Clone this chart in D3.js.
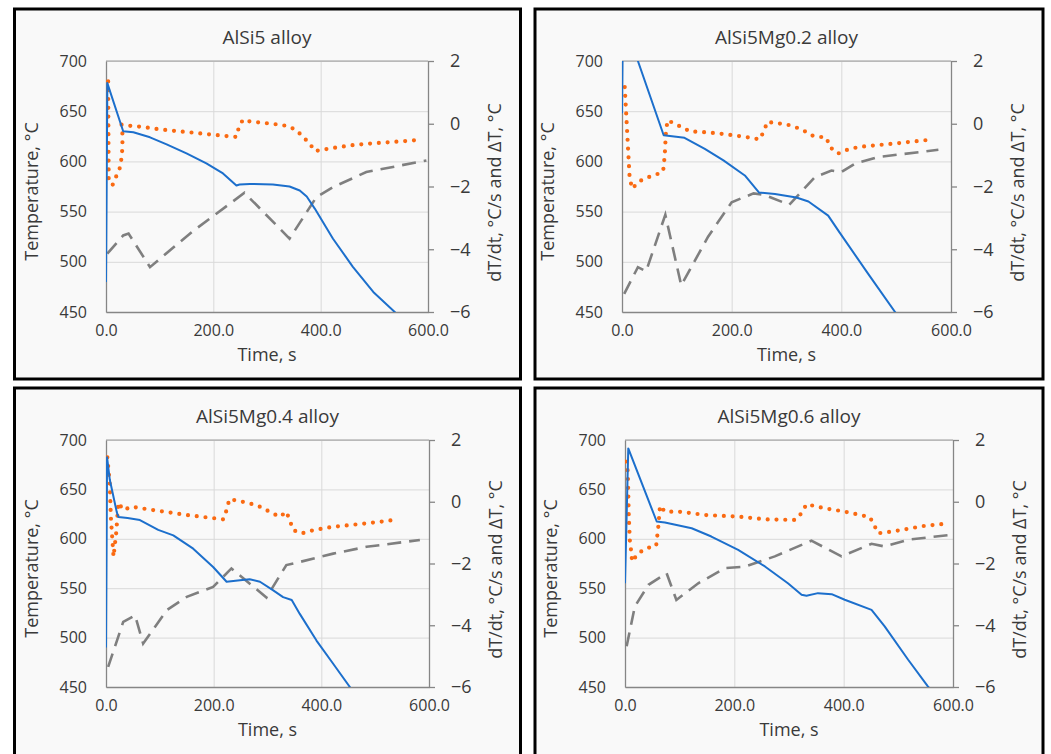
<!DOCTYPE html>
<html>
<head>
<meta charset="utf-8">
<script src="https://cdn.jsdelivr.net/npm/d3@7"></script>
<style>
  body { margin: 0; background: #ffffff; }
  svg { display: block; font-family: "Open Sans", sans-serif; }
</style>
</head>
<body>
<svg id="chart"></svg>
<script>
// ---- data ----
const titles = ["AlSi5 alloy", "AlSi5Mg0.2 alloy", "AlSi5Mg0.4 alloy", "AlSi5Mg0.6 alloy"];
const timeTicks = [0, 200, 400, 600];
const tempTicks = [450, 500, 550, 600, 650, 700];
const rateTicks = [2, 0, -2, -4, -6];

// [time s, temperature C]
const tempAlSi5 = [[0,480],[2.5,678],[32,630],[51,629],[82,624],[113,617],[150,608],[187,598],[218,588],[243,576],[249,577],[268,577.5],[311,577],[342,575],[361,571],[374,565],[389,553],[423,523],[460,495],[498,470],[538,450],[560,438]];
const tempMg02 = [[0,648],[2,760],[29,700],[76,626],[114,623.5],[151,612.5],[185,601],[224,586],[250,569],[279,567.5],[318,564],[340,560],[376,546],[397,529],[449,488],[498,450],[520,432]];
const tempMg04 = [[0,490],[2,682.5],[7,660],[20,627],[23,622],[40,621],[63,619],[97,609],[125,603.5],[162,590],[199,571.5],[224,556.5],[249,558],[267,559],[286,556.5],[310,548],[329,541],[345,538],[360,524],[391,497],[422,473.5],[453,450],[465,441]];
const tempMg06 = [[0,555],[6,691.5],[58,617.5],[73,616.5],[122,610.7],[158,602.3],[207,588.8],[256,572],[298,555],[323,543.3],[332,542.3],[353,545],[378,544],[402,538.3],[451,528],[475,511.3],[518,477.6],[554,450.7],[567,442]];

// [time s, dT/dt C/s]
const rateAlSi5 = [[4,1.35],[5,-1.75],[12,-1.96],[20,-1.64],[27,-1.36],[30,-0.9],[31,-0.4],[29,-0.03],[35,-0.05],[68,-0.1],[100,-0.18],[166,-0.29],[228,-0.4],[243,-0.42],[247,-0.15],[255,0.13],[271,0.06],[290,0.04],[306,0],[324,-0.03],[340,-0.08],[355,-0.21],[380,-0.64],[389,-0.87],[420,-0.78],[460,-0.68],[500,-0.62],[560,-0.55],[590,-0.5]];
const rateMg02 = [[5,1.17],[14,-1.75],[19,-2.07],[29,-1.86],[45,-1.72],[60,-1.64],[75,-1.52],[78,-1.0],[80,-0.3],[83,0.11],[99,-0.02],[114,-0.16],[127,-0.26],[135,-0.25],[172,-0.3],[203,-0.37],[233,-0.44],[251,-0.5],[259,-0.23],[265,0.06],[282,0.02],[300,-0.02],[315,-0.1],[330,-0.2],[345,-0.37],[373,-0.45],[379,-0.74],[394,-0.95],[407,-0.85],[431,-0.74],[461,-0.69],[492,-0.64],[562,-0.51]];
const rateMg04 = [[2.5,1.44],[7,0.6],[9,-0.5],[14,-1.78],[19,-1],[23,-0.03],[32,-0.27],[48,-0.16],[69,-0.22],[150,-0.43],[218,-0.57],[225,-0.22],[229,0.08],[246,0.03],[280,-0.11],[310,-0.38],[323,-0.49],[335,-0.32],[341,-0.59],[348,-0.92],[363,-1.03],[385,-0.92],[422,-0.81],[484,-0.7],[536,-0.59]];
const rateMg06 = [[1.2,1.3],[5,1.0],[7,-0.5],[9,-1.3],[11,-1.56],[13,-1.94],[24,-1.67],[40,-1.5],[57,-1.43],[61,-0.8],[64,-0.13],[73,-0.32],[97,-0.32],[122,-0.37],[146,-0.43],[207,-0.48],[256,-0.57],[311,-0.59],[323,-0.37],[332,-0.08],[365,-0.21],[402,-0.32],[448,-0.5],[457,-0.8],[463,-1.02],[487,-0.97],[548,-0.78],[594,-0.7]];

// [time s, delta T C]
const deltaAlSi5 = [[2.5,-4.14],[32,-3.56],[42,-3.5],[82,-4.57],[160,-3.45],[258,-2.2],[342,-3.66],[392,-2.34],[423,-2.02],[485,-1.54],[597,-1.17]];
const deltaMg02 = [[4,-5.42],[29,-4.57],[44,-4.7],[79,-2.9],[108,-5.15],[157,-3.6],[200,-2.5],[240,-2.22],[260,-2.27],[305,-2.58],[352,-1.7],[382,-1.49],[400,-1.54],[425,-1.27],[467,-1.06],[577,-0.83]];
const deltaMg04 = [[4,-5.35],[32,-3.89],[54,-3.68],[69,-4.59],[113,-3.51],[150,-3.08],[199,-2.76],[233,-2.16],[298,-3.1],[335,-2.05],[360,-1.95],[422,-1.68],[484,-1.46],[583,-1.24]];
const deltaMg06 = [[3,-4.68],[18,-3.39],[43,-2.69],[76,-2.31],[94,-3.18],[134,-2.64],[183,-2.15],[219,-2.1],[274,-1.77],[341,-1.26],[396,-1.77],[451,-1.36],[475,-1.45],[518,-1.23],[597,-1.07]];

const temps = [tempAlSi5, tempMg02, tempMg04, tempMg06];
const rates = [rateAlSi5, rateMg02, rateMg04, rateMg06];
const deltas = [deltaAlSi5, deltaMg02, deltaMg04, deltaMg06];

// ---- layout ----
const frames = [[14.5, 9, 506, 370], [535, 9, 508, 370], [14.5, 388, 506, 400], [535, 388, 508, 400]];
const plots = [[106, 61, 322, 251], [622, 61, 329, 251], [106, 440, 323, 247], [625, 440, 328, 247]];

const textColor = "#3a3a3a";
const svg = d3.select("#chart").attr("width", 1051).attr("height", 754);

titles.forEach((title, i) => drawPanel(i));

function drawPanel(i) {
    const f = frames[i];
    const p = plots[i];
    const left = p[0], top = p[1], width = p[2], height = p[3];

    svg.append("rect")
        .attr("x", f[0]).attr("y", f[1])
        .attr("width", f[2]).attr("height", f[3])
        .attr("fill", "#f9f9f9")
        .attr("stroke", "#000")
        .attr("stroke-width", 3);

    const timeScale = d3.scaleLinear().domain([0, 600]).range([0, width]);
    const tempScale = d3.scaleLinear().domain([450, 700]).range([height, 0]);
    const rateScale = d3.scaleLinear().domain([-6, 2]).range([height, 0]);

    const g = svg.append("g").attr("transform", "translate(" + left + "," + top + ")");

    // grid
    g.append("g")
        .attr("class", "grid")
        .call(d3.axisLeft(tempScale).tickValues(tempTicks).tickSize(-width).tickFormat(""))
        .call(s => s.select(".domain").remove())
        .call(s => s.selectAll("line").attr("stroke", "#d9d9d9"));
    g.append("g")
        .attr("class", "grid")
        .attr("transform", "translate(0," + height + ")")
        .call(d3.axisBottom(timeScale).tickValues([200, 400]).tickSize(-height).tickFormat(""))
        .call(s => s.select(".domain").remove())
        .call(s => s.selectAll("line").attr("stroke", "#d9d9d9"));
    g.append("line")
        .attr("x1", 0).attr("x2", width).attr("y1", 0).attr("y2", 0)
        .attr("stroke", "#9a9a9a");

    // axes
    const leftAxis = g.append("g")
        .call(d3.axisLeft(tempScale).tickValues(tempTicks).tickSize(0).tickPadding(19));
    const bottomAxis = g.append("g")
        .attr("transform", "translate(0," + height + ")")
        .call(d3.axisBottom(timeScale).tickValues(timeTicks).tickSize(0).tickPadding(13).tickFormat(d3.format(".1f")));
    const rightAxis = g.append("g")
        .attr("transform", "translate(" + width + ",0)")
        .call(d3.axisRight(rateScale).tickValues(rateTicks).tickSize(6).tickSizeOuter(0).tickPadding(16));
    [leftAxis, bottomAxis, rightAxis].forEach(a => {
        a.select(".domain").attr("stroke", "#868686").attr("stroke-width", 1.3);
        a.selectAll("line").attr("stroke", "#868686").attr("stroke-width", 1.3);
        a.selectAll("text").attr("fill", textColor).style("font-size", "16px")
            .style("font-family", "'Open Sans', sans-serif");
    });
    rightAxis.selectAll("text").style("font-size", "18px");

    // series, clipped to the plot area
    const clipId = "clip" + i;
    svg.append("clipPath").attr("id", clipId)
        .append("rect").attr("x", 0).attr("y", 0).attr("width", width).attr("height", height);
    const plot = g.append("g").attr("clip-path", "url(#" + clipId + ")");

    const tempLine = d3.line().x(d => timeScale(d[0])).y(d => tempScale(d[1]));
    const rateLine = d3.line().x(d => timeScale(d[0])).y(d => rateScale(d[1]));

    plot.append("path")
        .datum(deltas[i])
        .attr("fill", "none")
        .attr("stroke", "#7f7f7f")
        .attr("stroke-width", 2.6)
        .attr("stroke-dasharray", "14,8")
        .attr("d", rateLine);
    plot.append("path")
        .datum(rates[i])
        .attr("fill", "none")
        .attr("stroke", "#fa6a12")
        .attr("stroke-width", 4.2)
        .attr("stroke-linecap", "round")
        .attr("stroke-linejoin", "round")
        .attr("stroke-dasharray", "0,8.8")
        .attr("d", rateLine);
    plot.append("path")
        .datum(temps[i])
        .attr("fill", "none")
        .attr("stroke", "#1c6fcc")
        .attr("stroke-width", 2)
        .attr("stroke-linejoin", "round")
        .attr("d", tempLine);

    // titles
    svg.append("text")
        .attr("x", left + width / 2).attr("y", top - 24).attr("dy", "0.35em")
        .attr("text-anchor", "middle").attr("fill", textColor)
        .style("font-size", "19px")
        .text(titles[i]);
    svg.append("text")
        .attr("transform", "translate(" + (left + width / 2) + "," + (top + height + 43) + ")")
        .attr("dy", "0.35em")
        .attr("text-anchor", "middle").attr("fill", textColor)
        .style("font-size", "18px")
        .text("Time, s");
    svg.append("text")
        .attr("transform", "translate(" + (left - 74) + "," + (top + height / 2 + 5) + ")rotate(-90)")
        .attr("dy", "0.35em")
        .attr("text-anchor", "middle").attr("fill", textColor)
        .style("font-size", "18px")
        .text("Temperature, °C");
    svg.append("text")
        .attr("transform", "translate(" + (left + width + 67) + "," + (top + height / 2 + 6) + ")rotate(-90)")
        .attr("dy", "0.35em")
        .attr("text-anchor", "middle").attr("fill", textColor)
        .style("font-size", "18px")
        .text("dT/dt, °C/s and ΔT, °C");
}
</script>
</body>
</html>
